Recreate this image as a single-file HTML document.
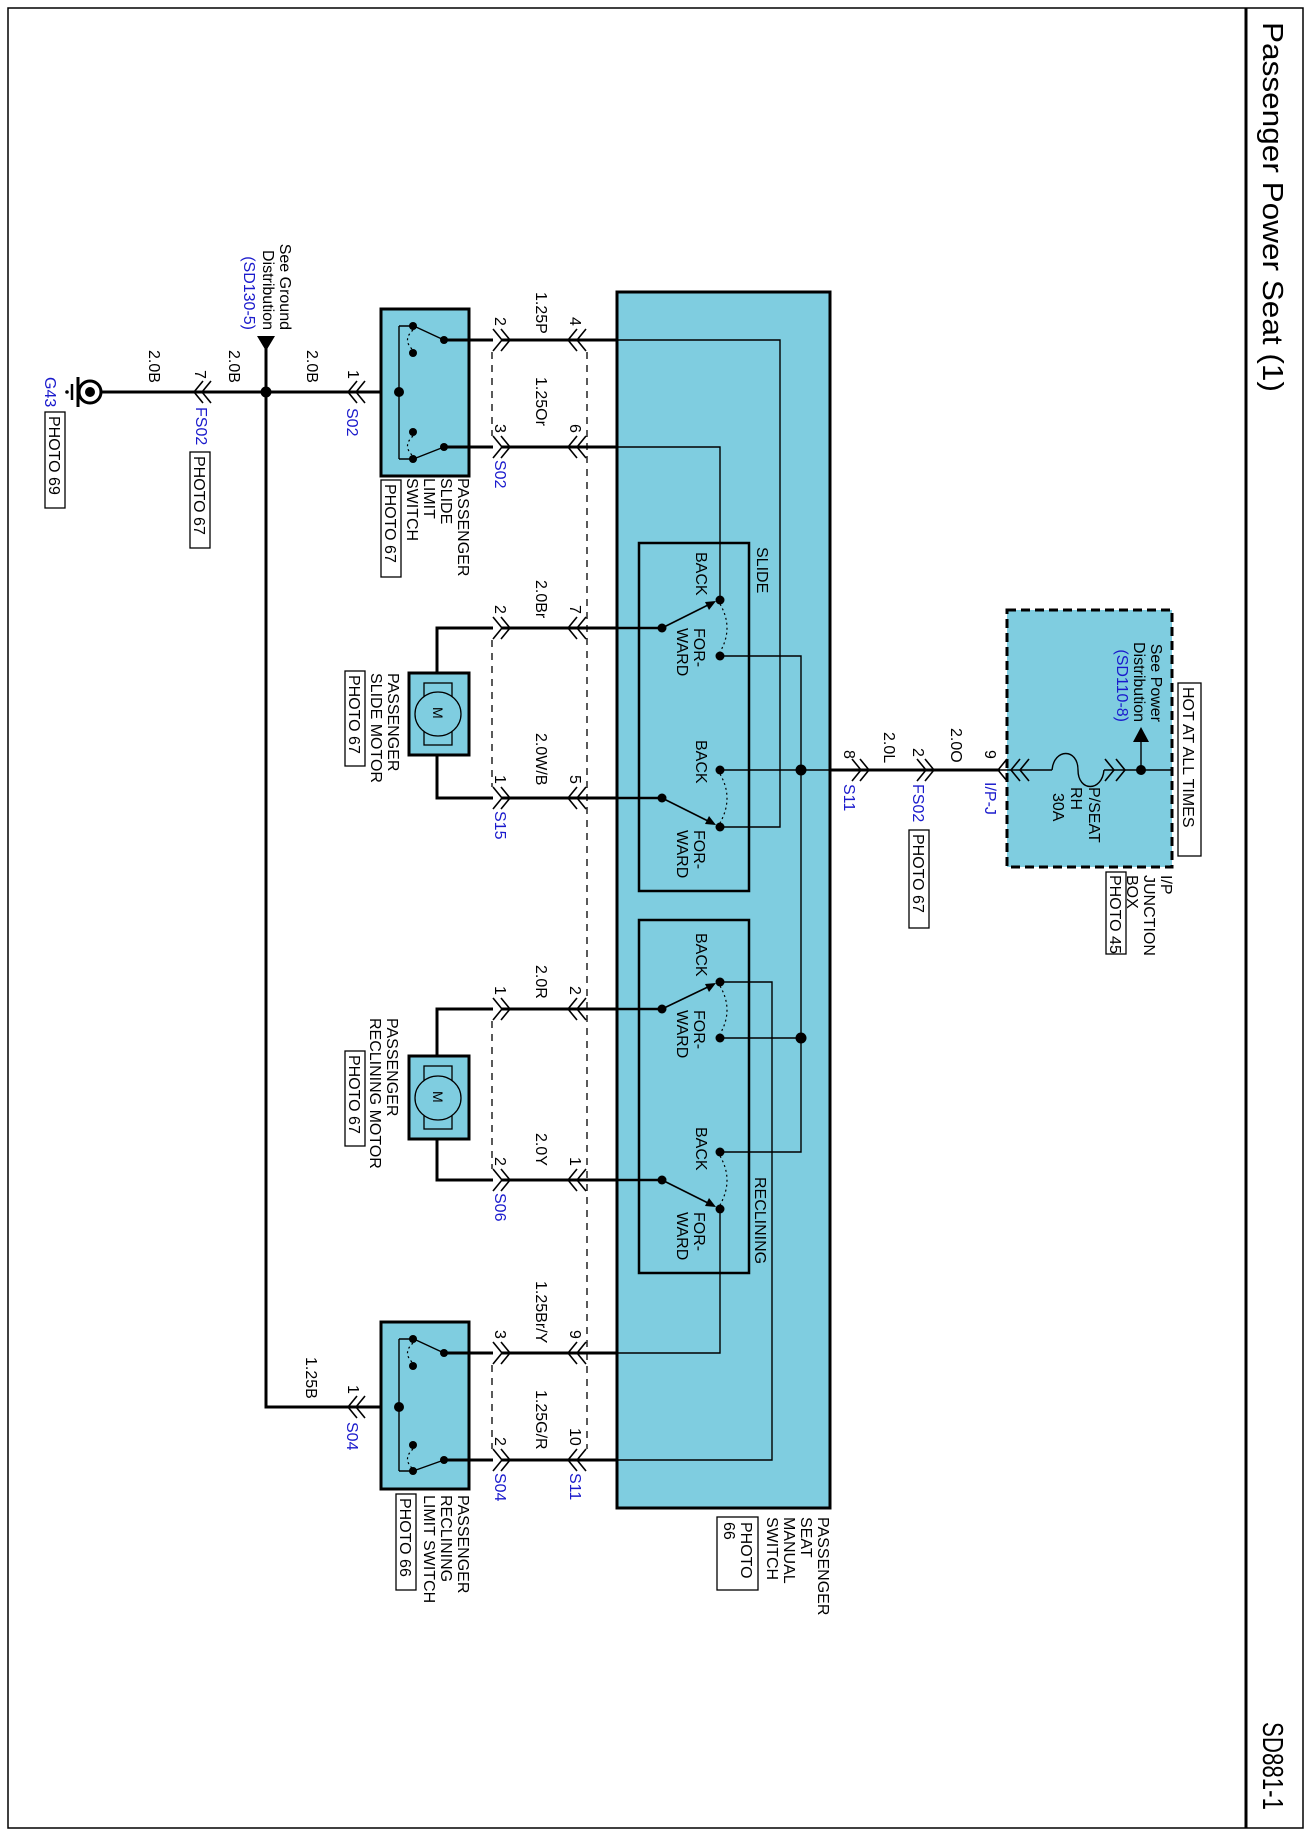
<!DOCTYPE html>
<html><head><meta charset="utf-8"><style>
html,body{margin:0;padding:0;background:#fff}
svg{display:block}
text{font-family:"Liberation Sans",Arial,sans-serif;font-size:16px;fill:#000}
.b{fill:#1a1acc}
.w{stroke:#000;stroke-width:3;fill:none}
.t{stroke:#000;stroke-width:1.4;fill:none}
.d{stroke:#000;stroke-width:1.3;fill:none;stroke-dasharray:7,6}
.dot{stroke:#000;stroke-width:1.2;fill:none;stroke-dasharray:2,3}
.bx{stroke:#000;stroke-width:1.3;fill:none}
</style></head><body>
<svg width="1311" height="1836" viewBox="0 0 1311 1836" xmlns="http://www.w3.org/2000/svg">
<rect x="8" y="8" width="1295" height="1820" fill="#fff" stroke="#000" stroke-width="1.5"/>
<line x1="1246" y1="8" x2="1246" y2="1828" stroke="#000" stroke-width="3"/>
<text transform="translate(1263,22) rotate(90)" style="font-size:29px" textLength="370" lengthAdjust="spacingAndGlyphs">Passenger Power Seat (1)</text>
<text transform="translate(1263,1722) rotate(90)" style="font-size:29px" textLength="88" lengthAdjust="spacingAndGlyphs">SD881-1</text>

<rect x="617" y="292" width="213" height="1216" fill="#7fcde0" stroke="#000" stroke-width="3"/>
<rect x="639" y="543" width="110" height="348" fill="none" stroke="#000" stroke-width="2.5"/>
<rect x="639" y="920" width="110" height="353" fill="none" stroke="#000" stroke-width="2.5"/>
<text transform="translate(757,547) rotate(90)">SLIDE</text>
<text transform="translate(755,1177) rotate(90)">RECLINING</text>

<rect x="1007" y="610" width="165" height="257" fill="#7fcde0" stroke="#000" stroke-width="3" stroke-dasharray="9,5"/>

<rect x="381" y="309" width="88" height="167" fill="#7fcde0" stroke="#000" stroke-width="3"/>
<rect x="381" y="1322" width="88" height="167" fill="#7fcde0" stroke="#000" stroke-width="3"/>
<rect x="409" y="673" width="60" height="82" fill="#7fcde0" stroke="#000" stroke-width="3"/>
<rect x="424" y="683" width="28" height="62" fill="none" stroke="#000" stroke-width="1.3"/>
<ellipse cx="438" cy="714" rx="23" ry="22" fill="#7fcde0" stroke="#000" stroke-width="1.3"/>
<text transform="translate(433,707) rotate(90)" style="font-size:14px">M</text>
<rect x="409" y="1056" width="60" height="83" fill="#7fcde0" stroke="#000" stroke-width="3"/>
<rect x="424" y="1066" width="28" height="63" fill="none" stroke="#000" stroke-width="1.3"/>
<ellipse cx="438" cy="1098" rx="23" ry="22" fill="#7fcde0" stroke="#000" stroke-width="1.3"/>
<text transform="translate(433,1091) rotate(90)" style="font-size:14px">M</text>

<path class="w" d="M101,392 H381"/>
<path class="w" d="M266,346 V1407 H381"/>
<polygon points="257,336 275,336 266,351" fill="#000"/>
<circle cx="266" cy="392" r="5.5" fill="#000"/>
<circle cx="90" cy="392" r="11" fill="#fff" stroke="#000" stroke-width="3"/>
<circle cx="90" cy="392" r="5" fill="#000"/>
<path class="w" d="M78,377 V407"/>
<path stroke="#000" stroke-width="2.5" d="M72,384 V400"/>
<circle cx="67" cy="392" r="1.8" fill="#000"/>

<g class="t" style="stroke-width:1.6">
<path d="M203,381 L194,392 L203,403 M211,381 L202,392 L211,403"/>
<path d="M357,381 L348,392 L357,403 M365,381 L356,392 L365,403"/>
<path d="M357,1396 L348,1407 L357,1418 M365,1396 L356,1407 L365,1418"/>
</g>

<g>
<path class="w" d="M444,340 H493 M444,447 H493"/>
<path class="t" d="M399,326 V459 M399,326 H413 M399,459 H413"/>
<path class="t" d="M444,340 L416,327 M444,447 L416,458"/>
<path class="dot" d="M413,330 Q402,340 413,350 M413,436 Q402,446 413,456"/>
<circle cx="413" cy="326" r="4" fill="#000"/><circle cx="413" cy="353" r="4" fill="#000"/>
<circle cx="444" cy="340" r="4" fill="#000"/><circle cx="413" cy="432" r="4" fill="#000"/>
<circle cx="413" cy="459" r="4" fill="#000"/><circle cx="444" cy="447" r="4" fill="#000"/>
<circle cx="399" cy="392" r="5" fill="#000"/>
</g>
<g>
<path class="w" d="M444,1353 H493 M444,1460 H493"/>
<path class="t" d="M399,1339 V1471 M399,1339 H413 M399,1471 H413"/>
<path class="t" d="M444,1353 L416,1340 M444,1460 L416,1470"/>
<path class="dot" d="M413,1343 Q402,1353 413,1363 M413,1449 Q402,1459 413,1469"/>
<circle cx="413" cy="1339" r="4" fill="#000"/><circle cx="413" cy="1366" r="4" fill="#000"/>
<circle cx="444" cy="1353" r="4" fill="#000"/><circle cx="413" cy="1445" r="4" fill="#000"/>
<circle cx="413" cy="1471" r="4" fill="#000"/><circle cx="444" cy="1460" r="4" fill="#000"/>
<circle cx="399" cy="1407" r="5" fill="#000"/>
</g>

<path class="w" d="M493,628 H437 V673 M437,755 V798 H493"/>
<path class="w" d="M493,1009 H437 V1056 M437,1139 V1180 H493"/>

<path class="w" d="M502,340 H617 M502,447 H617 M502,628 H617 M502,798 H617 M502,1009 H617 M502,1180 H617 M502,1353 H617 M502,1460 H617"/>

<g class="t" style="stroke-width:1.6">
<path d="M493,329 L502,340 L493,351 M501,329 L510,340 L501,351"/>
<path d="M493,436 L502,447 L493,458 M501,436 L510,447 L501,458"/>
<path d="M493,617 L502,628 L493,639 M501,617 L510,628 L501,639"/>
<path d="M493,787 L502,798 L493,809 M501,787 L510,798 L501,809"/>
<path d="M493,998 L502,1009 L493,1020 M501,998 L510,1009 L501,1020"/>
<path d="M493,1169 L502,1180 L493,1191 M501,1169 L510,1180 L501,1191"/>
<path d="M493,1342 L502,1353 L493,1364 M501,1342 L510,1353 L501,1364"/>
<path d="M493,1449 L502,1460 L493,1471 M501,1449 L510,1460 L501,1471"/>
<path d="M577,329 L568,340 L577,351 M586,329 L577,340 L586,351"/>
<path d="M577,436 L568,447 L577,458 M586,436 L577,447 L586,458"/>
<path d="M577,617 L568,628 L577,639 M586,617 L577,628 L586,639"/>
<path d="M577,787 L568,798 L577,809 M586,787 L577,798 L586,809"/>
<path d="M577,998 L568,1009 L577,1020 M586,998 L577,1009 L586,1020"/>
<path d="M577,1169 L568,1180 L577,1191 M586,1169 L577,1180 L586,1191"/>
<path d="M577,1342 L568,1353 L577,1364 M586,1342 L577,1353 L586,1364"/>
<path d="M577,1449 L568,1460 L577,1471 M586,1449 L577,1460 L586,1471"/>
</g>
<path class="d" d="M492,352 V436 M492,640 V787 M492,1021 V1169 M492,1365 V1449 M587,352 V1449"/>

<path class="w" style="stroke-width:2.5" d="M617,628 H662 M617,798 H662 M617,1009 H662 M617,1180 H662"/>
<path class="t" d="M617,340 H780 V827 H720"/>
<path class="t" d="M617,447 H720 V600"/>
<path class="t" d="M720,656 H801 V1152 H720"/>
<path class="t" d="M720,770 H830"/>
<path class="t" d="M720,982 H772 V1460 H617"/>
<path class="t" d="M720,1038 H801"/>
<path class="t" d="M720,1209 V1353 H617"/>
<g class="t" style="stroke-width:1.6">
<path d="M662,628 L712,603 M662,798 L712,823 M662,1009 L712,985 M662,1180 L712,1205"/>
</g>
<g fill="#000">
<polygon points="716,601 705,602 709,610"/><polygon points="716,825 709,816 705,824"/>
<polygon points="716,983 705,984 709,992"/><polygon points="716,1207 709,1198 705,1206"/>
</g>
<path class="dot" d="M720,604 Q734,628 720,652 M720,774 Q734,798 720,823 M720,986 Q734,1010 720,1034 M720,1156 Q734,1180 720,1205"/>
<g fill="#000">
<circle cx="720" cy="600" r="4.5"/><circle cx="662" cy="628" r="4.5"/><circle cx="720" cy="656" r="4.5"/>
<circle cx="720" cy="770" r="4.5"/><circle cx="662" cy="798" r="4.5"/><circle cx="720" cy="827" r="4.5"/>
<circle cx="720" cy="982" r="4.5"/><circle cx="662" cy="1009" r="4.5"/><circle cx="720" cy="1038" r="4.5"/>
<circle cx="720" cy="1152" r="4.5"/><circle cx="662" cy="1180" r="4.5"/><circle cx="720" cy="1209" r="4.5"/>
<circle cx="801" cy="770" r="5.5"/><circle cx="801" cy="1038" r="5.5"/>
</g>

<path class="w" d="M830,770 H1000"/>
<path class="t" d="M1000,770 H1052 M1104,770 H1172"/>
<path class="t" d="M1052,770 C1054,748 1078,748 1078,770 C1078,792 1102,792 1104,770"/>
<g class="t" style="stroke-width:1.6">
<path d="M852,759 L861,770 L852,781 M860,759 L869,770 L860,781"/>
<path d="M917,759 L926,770 L917,781 M925,759 L934,770 L925,781"/>
<path d="M1007,759 L998,770 L1007,781"/>
<path d="M1020,759 L1011,770 L1020,781 M1029,759 L1020,770 L1029,781"/>
<path d="M1105,759 L1114,770 L1105,781 M1116,759 L1125,770 L1116,781"/>
</g>
<path class="t" d="M1141,770 V740"/>
<polygon points="1133,742 1149,742 1141,727" fill="#000"/>
<circle cx="1141" cy="770" r="5" fill="#000"/>
<text transform="translate(1151,722) rotate(90)" text-anchor="end">See Power</text>
<text transform="translate(1134,722) rotate(90)" text-anchor="end">Distribution</text>
<text class="b" transform="translate(1117,722) rotate(90)" text-anchor="end">(SD110-8)</text>
<text transform="translate(1089,787) rotate(90)">P/SEAT</text>
<text transform="translate(1071,787) rotate(90)">RH</text>
<text transform="translate(1053,793) rotate(90)">30A</text>
<rect x="1178" y="683" width="23" height="173" class="bx"/>
<text transform="translate(1183,687) rotate(90)">HOT AT ALL TIMES</text>
<text transform="translate(1161,875) rotate(90)">I/P</text>
<text transform="translate(1144,875) rotate(90)">JUNCTION</text>
<text transform="translate(1127,875) rotate(90)">BOX</text>
<rect x="1106" y="872" width="20" height="82" class="bx"/>
<text transform="translate(1110,875) rotate(90)">PHOTO 45</text>

<text transform="translate(844,750) rotate(90)">8</text>
<text class="b" transform="translate(844,784) rotate(90)">S11</text>
<text transform="translate(884,732) rotate(90)">2.0L</text>
<text transform="translate(913,748) rotate(90)">2</text>
<text class="b" transform="translate(913,784) rotate(90)">FS02</text>
<rect x="909" y="830" width="20" height="98" class="bx"/>
<text transform="translate(913,834) rotate(90)">PHOTO 67</text>
<text transform="translate(951,728) rotate(90)">2.0O</text>
<text transform="translate(985,750) rotate(90)">9</text>
<text class="b" transform="translate(985,782) rotate(90)">I/P-J</text>

<text transform="translate(696,552) rotate(90)">BACK</text>
<text transform="translate(694,628) rotate(90)">FOR-<tspan x="0" dy="17">WARD</tspan></text>
<text transform="translate(696,740) rotate(90)">BACK</text>
<text transform="translate(694,830) rotate(90)">FOR-<tspan x="0" dy="17">WARD</tspan></text>
<text transform="translate(696,933) rotate(90)">BACK</text>
<text transform="translate(694,1010) rotate(90)">FOR-<tspan x="0" dy="17">WARD</tspan></text>
<text transform="translate(696,1127) rotate(90)">BACK</text>
<text transform="translate(694,1212) rotate(90)">FOR-<tspan x="0" dy="17">WARD</tspan></text>

<text transform="translate(280,330) rotate(90)" text-anchor="end">See Ground</text>
<text transform="translate(263,330) rotate(90)" text-anchor="end">Distribution</text>
<text class="b" transform="translate(244,330) rotate(90)" text-anchor="end">(SD130-5)</text>
<text transform="translate(149,350) rotate(90)">2.0B</text>
<text transform="translate(229,350) rotate(90)">2.0B</text>
<text transform="translate(307,350) rotate(90)">2.0B</text>
<text transform="translate(195,370) rotate(90)">7</text>
<text class="b" transform="translate(196,407) rotate(90)">FS02</text>
<rect x="190" y="452" width="20" height="96" class="bx"/>
<text transform="translate(194,456) rotate(90)">PHOTO 67</text>
<text class="b" transform="translate(45,377) rotate(90)">G43</text>
<rect x="45" y="412" width="20" height="96" class="bx"/>
<text transform="translate(49,416) rotate(90)">PHOTO 69</text>
<text transform="translate(348,370) rotate(90)">1</text>
<text class="b" transform="translate(347,408) rotate(90)">S02</text>
<text transform="translate(306,1357) rotate(90)">1.25B</text>
<text transform="translate(348,1385) rotate(90)">1</text>
<text class="b" transform="translate(347,1422) rotate(90)">S04</text>

<text transform="translate(458,478) rotate(90)">PASSENGER<tspan x="0" dy="17">SLIDE</tspan><tspan x="0" dy="17">LIMIT</tspan><tspan x="0" dy="17">SWITCH</tspan></text>
<rect x="381" y="480" width="20" height="97" class="bx"/>
<text transform="translate(385,484) rotate(90)">PHOTO 67</text>
<text transform="translate(388,673) rotate(90)">PASSENGER<tspan x="0" dy="17">SLIDE MOTOR</tspan></text>
<rect x="345" y="671" width="20" height="95" class="bx"/>
<text transform="translate(349,675) rotate(90)">PHOTO 67</text>
<text transform="translate(387,1018) rotate(90)">PASSENGER<tspan x="0" dy="17">RECLINING MOTOR</tspan></text>
<rect x="345" y="1051" width="20" height="95" class="bx"/>
<text transform="translate(349,1055) rotate(90)">PHOTO 67</text>
<text transform="translate(458,1495) rotate(90)">PASSENGER<tspan x="0" dy="17">RECLINING</tspan><tspan x="0" dy="17">LIMIT SWITCH</tspan></text>
<rect x="396" y="1494" width="20" height="96" class="bx"/>
<text transform="translate(400,1498) rotate(90)">PHOTO 66</text>
<text transform="translate(818,1517) rotate(90)">PASSENGER<tspan x="0" dy="17">SEAT</tspan><tspan x="0" dy="17">MANUAL</tspan><tspan x="0" dy="17">SWITCH</tspan></text>
<rect x="717" y="1517" width="41" height="73" class="bx"/>
<text transform="translate(741,1522) rotate(90)">PHOTO<tspan x="0" dy="17">66</tspan></text>

<text transform="translate(536,292) rotate(90)">1.25P</text>
<text transform="translate(536,377) rotate(90)">1.25Or</text>
<text transform="translate(536,580) rotate(90)">2.0Br</text>
<text transform="translate(536,733) rotate(90)">2.0W/B</text>
<text transform="translate(536,965) rotate(90)">2.0R</text>
<text transform="translate(536,1133) rotate(90)">2.0Y</text>
<text transform="translate(536,1281) rotate(90)">1.25Br/Y</text>
<text transform="translate(536,1390) rotate(90)">1.25G/R</text>

<text transform="translate(495,317) rotate(90)">2</text>
<text transform="translate(570,317) rotate(90)">4</text>
<text transform="translate(495,424) rotate(90)">3</text>
<text class="b" transform="translate(495,460) rotate(90)">S02</text>
<text transform="translate(570,424) rotate(90)">6</text>
<text transform="translate(495,605) rotate(90)">2</text>
<text transform="translate(570,605) rotate(90)">7</text>
<text transform="translate(495,775) rotate(90)">1</text>
<text class="b" transform="translate(495,811) rotate(90)">S15</text>
<text transform="translate(570,775) rotate(90)">5</text>
<text transform="translate(495,986) rotate(90)">1</text>
<text transform="translate(570,986) rotate(90)">2</text>
<text transform="translate(495,1157) rotate(90)">2</text>
<text class="b" transform="translate(495,1193) rotate(90)">S06</text>
<text transform="translate(570,1157) rotate(90)">1</text>
<text transform="translate(495,1330) rotate(90)">3</text>
<text transform="translate(570,1330) rotate(90)">9</text>
<text transform="translate(495,1437) rotate(90)">2</text>
<text class="b" transform="translate(495,1473) rotate(90)">S04</text>
<text transform="translate(570,1428) rotate(90)">10</text>
<text class="b" transform="translate(570,1473) rotate(90)">S11</text>
</svg>
</body></html>
